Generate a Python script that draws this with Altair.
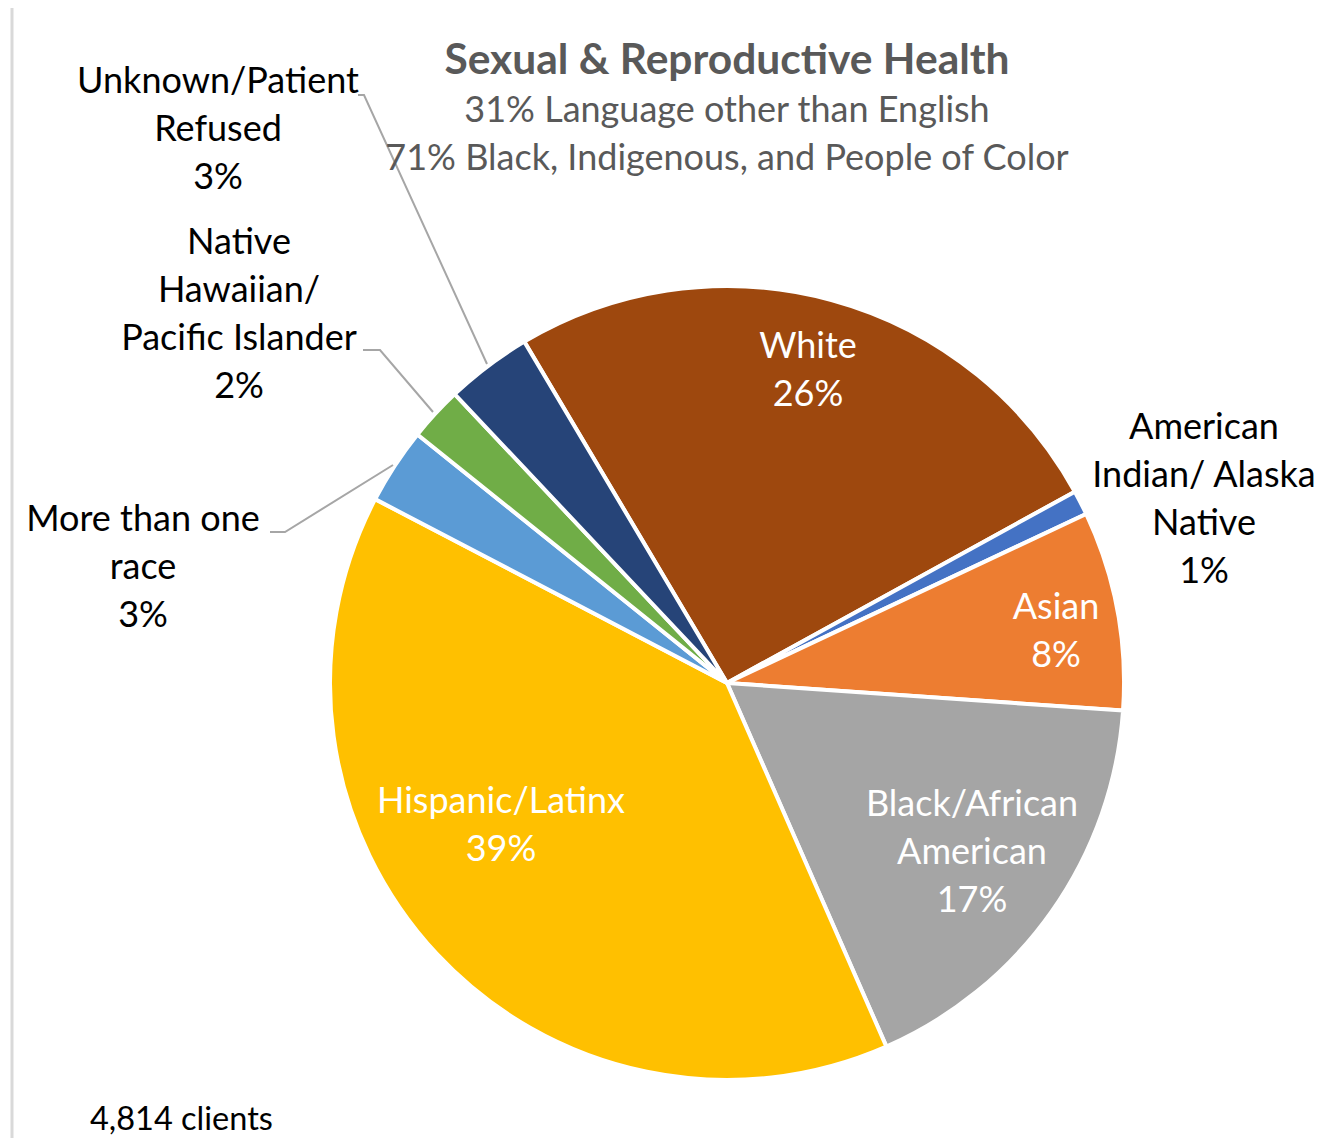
import math
import altair as alt
import pandas as pd

# ---- data ----
categories = ["White", "American Indian/ Alaska Native", "Asian", "Black/African American",
              "Hispanic/Latinx", "More than one race", "Native Hawaiian/ Pacific Islander",
              "Unknown/Patient Refused"]
shares = [25.5, 1.0, 8.1, 17.3, 39.2, 3.1, 2.2, 3.5]
pct_labels = ["26%", "1%", "8%", "17%", "39%", "3%", "2%", "3%"]
colors = ["#9E480E", "#4472C4", "#ED7D31", "#A5A5A5", "#FFC000", "#5B9BD5", "#70AD47", "#264478"]
label_lines = ["White", "American\nIndian/ Alaska\nNative", "Asian", "Black/African\nAmerican",
               "Hispanic/Latinx", "More than one\nrace", "Native\nHawaiian/\nPacific Islander",
               "Unknown/Patient\nRefused"]
title_text = "Sexual & Reproductive Health"
subtitle_lines = ["31% Language other than English", "71% Black, Indigenous, and People of Color"]
footnote = "4,814 clients"

# ---- layout (chart pixel coords, page margin 8px) ----
OFF = 8
FONT = "Lato"
LBL = 36
CX, CY, R = 727 - OFF, 683 - OFF, 397
start = math.radians(-30.7)
# first-line centre of each label
inside = {"White": (808, 347), "Asian": (1056, 608), "Black/African American": (972, 805),
          "Hispanic/Latinx": (501, 802)}
outside = {"American Indian/ Alaska Native": (1204, 428), "More than one race": (143, 520),
           "Native Hawaiian/ Pacific Islander": (239, 243), "Unknown/Patient Refused": (218, 82)}
leaders = [
    [(358, 95), (364, 95), (487, 364)],
    [(363, 350), (380, 350), (433, 412)],
    [(270, 532), (285, 532), (393, 465)],
]

df = pd.DataFrame({"cat": categories, "share": shares, "order": list(range(len(categories))),
                   "pct": pct_labels})

W, H = 1311, 1130

pie = alt.Chart(df).mark_arc(stroke="white", strokeWidth=4).encode(
    theta=alt.Theta("share:Q", stack=True,
                    scale=alt.Scale(range=[start, start + 2 * math.pi])),
    order=alt.Order("order:Q"),
    color=alt.Color("cat:N", scale=alt.Scale(domain=categories, range=colors), legend=None),
    x=alt.value(CX), y=alt.value(CY),
    radius=alt.value(R),
)

rows = []
for c, p, ll in zip(categories, pct_labels, label_lines):
    txt = ll + "\n" + p
    if c in inside:
        x, y = inside[c]
        rows.append({"t": txt, "x": x - OFF, "y": y - OFF, "kind": "in"})
    else:
        x, y = outside[c]
        rows.append({"t": txt, "x": x - OFF, "y": y - OFF, "kind": "out"})
lab = pd.DataFrame(rows)

xs = alt.Scale(domain=[0, W], range=[0, W])
ys = alt.Scale(domain=[0, H], range=[0, H])

labels = alt.Chart(lab).mark_text(
    font=FONT, fontSize=LBL, lineBreak="\n", lineHeight=48, baseline="middle", align="center"
).encode(
    x=alt.X("x:Q", scale=xs, axis=None),
    y=alt.Y("y:Q", scale=ys, axis=None),
    text="t:N",
    color=alt.Color("kind:N", scale=alt.Scale(domain=["in", "out"], range=["#FFFFFF", "#000000"]), legend=None),
)

lrows = []
for i, pts in enumerate(leaders):
    for j, (x, y) in enumerate(pts):
        lrows.append({"g": i, "k": j, "x": x - OFF, "y": y - OFF})
ldf = pd.DataFrame(lrows)
lines = alt.Chart(ldf).mark_line(color="#A6A6A6", strokeWidth=2).encode(
    x=alt.X("x:Q", scale=xs, axis=None),
    y=alt.Y("y:Q", scale=ys, axis=None),
    detail="g:N", order="k:Q",
)

title = alt.Chart(pd.DataFrame({"t": [title_text]})).mark_text(
    font=FONT, fontSize=42.5, fontWeight="bold", color="#595959", baseline="middle", align="center"
).encode(text="t:N", x=alt.value(727 - OFF), y=alt.value(61 - OFF))

sub1 = alt.Chart(pd.DataFrame({"t": [subtitle_lines[0]]})).mark_text(
    font=FONT, fontSize=LBL, color="#595959", baseline="middle", align="center"
).encode(text="t:N", x=alt.value(727 - OFF), y=alt.value(111 - OFF))
sub2 = alt.Chart(pd.DataFrame({"t": [subtitle_lines[1]]})).mark_text(
    font=FONT, fontSize=LBL, color="#595959", baseline="middle", align="center"
).encode(text="t:N", x=alt.value(727 - OFF), y=alt.value(159 - OFF))

foot = alt.Chart(pd.DataFrame({"t": [footnote]})).mark_text(
    font=FONT, fontSize=32.5, color="#000000", baseline="middle", align="left"
).encode(text="t:N", x=alt.value(90 - OFF), y=alt.value(1120 - OFF))

border_top = alt.Chart(pd.DataFrame({"a": [0]})).mark_rule(color="#D9D9D9", strokeWidth=3).encode(
    x=alt.value(12 - OFF), x2=alt.value(W + 10), y=alt.value(5 - OFF))
border_left = alt.Chart(pd.DataFrame({"a": [0]})).mark_rule(color="#D9D9D9", strokeWidth=3).encode(
    x=alt.value(12 - OFF), y=alt.value(5 - OFF), y2=alt.value(H + 10))

chart = alt.layer(border_top, border_left, pie, lines, labels, title, sub1, sub2, foot).resolve_scale(
    color="independent"
).properties(
    width=W, height=H, padding=0, autosize=alt.AutoSizeParams(type="none")
).configure_view(stroke=None)

chart.save("out.html", embed_options={"renderer": "svg", "actions": False})
